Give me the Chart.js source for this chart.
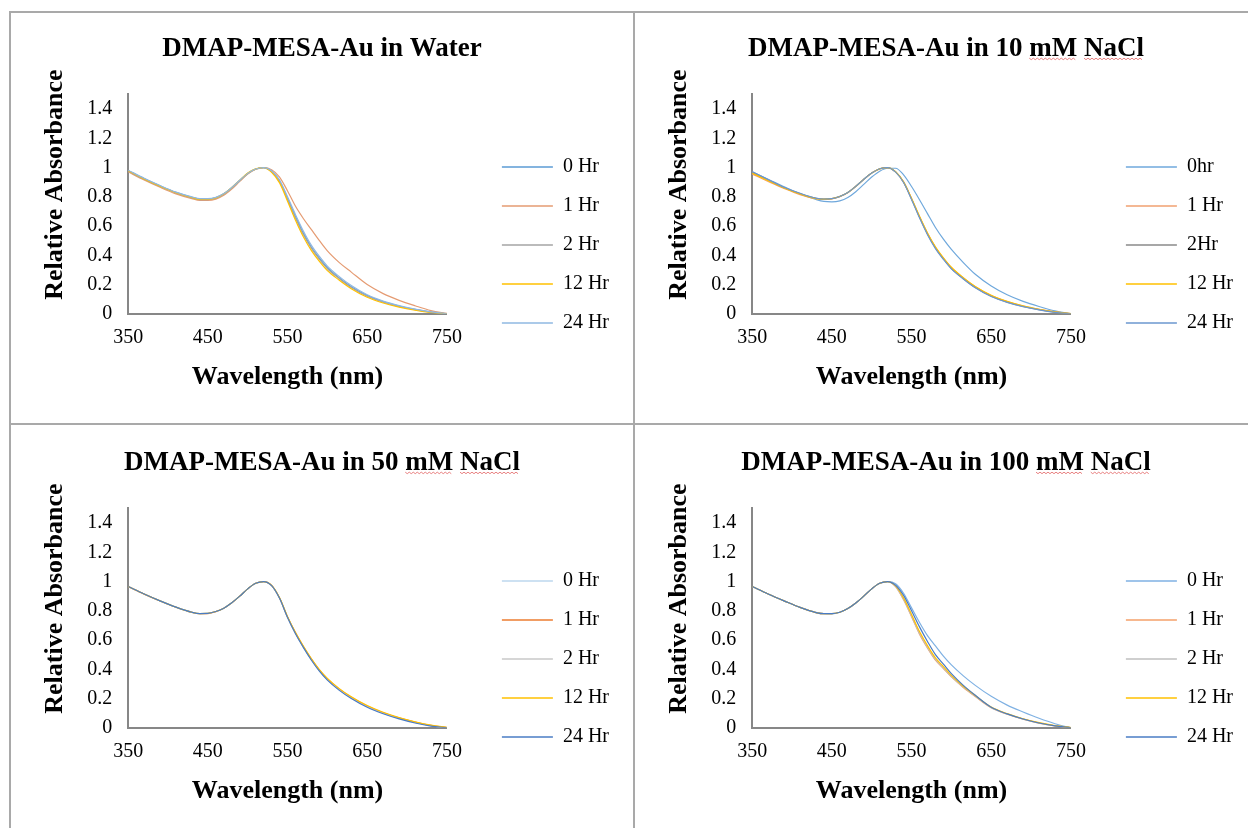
<!DOCTYPE html>
<html lang="en">
<head>
    <meta charset="UTF-8">
    <title>DMAP-MESA-Au stability in NaCl</title>
    <script src="https://cdn.jsdelivr.net/npm/chart.js"></script>
    <style>
        body { margin: 0; background: #fff; width: 1248px; height: 828px; overflow: hidden; position: relative; }
        .rule { position: absolute; background: #a9a9a9; }
        .panel { position: absolute; width: 622px; height: 410px; }
    </style>
</head>
<body>
    <!-- table lines around the four charts -->
    <div class="rule" style="left:9px;top:11px;width:1239px;height:2px"></div>
    <div class="rule" style="left:9px;top:423px;width:1239px;height:2px"></div>
    <div class="rule" style="left:9px;top:11px;width:2px;height:817px"></div>
    <div class="rule" style="left:633px;top:11px;width:2px;height:817px"></div>

    <div class="panel" style="left:11px;top:13px"><canvas id="chartWater" width="622" height="410"></canvas></div>
    <div class="panel" style="left:635px;top:13px"><canvas id="chart10" width="622" height="410"></canvas></div>
    <div class="panel" style="left:11px;top:427px"><canvas id="chart50" width="622" height="410"></canvas></div>
    <div class="panel" style="left:635px;top:427px"><canvas id="chart100" width="622" height="410"></canvas></div>

    <script>
        // wavelength grid (nm)
        const wavelengths = [350, 370, 390, 410, 430, 440, 450, 460, 470, 480, 490, 500, 510, 520, 530,
                             540, 550, 560, 570, 580, 590, 600, 615, 630, 650, 670, 690, 710, 730, 750];

        const labelsStd = ['0 Hr', '1 Hr', '2 Hr', '12 Hr', '24 Hr'];
        const labels10 = ['0hr', '1 Hr', '2Hr', '12 Hr', '24 Hr'];

        // Water
        const water0 = [0.98, 0.925, 0.875, 0.83, 0.797, 0.785, 0.785, 0.794, 0.82, 0.862, 0.912, 0.96, 0.99, 1.0, 0.975,
                        0.91, 0.79, 0.665, 0.55, 0.455, 0.38, 0.315, 0.245, 0.185, 0.125, 0.083, 0.053, 0.03, 0.012, 0.0];
        const water1 = [0.97, 0.915, 0.865, 0.82, 0.787, 0.775, 0.775, 0.784, 0.81, 0.853, 0.905, 0.955, 0.988, 1.0, 0.985,
                        0.935, 0.84, 0.735, 0.65, 0.575, 0.5, 0.43, 0.35, 0.285, 0.2, 0.138, 0.092, 0.055, 0.022, 0.003];
        const water2 = [0.975, 0.92, 0.87, 0.826, 0.793, 0.781, 0.781, 0.79, 0.817, 0.86, 0.91, 0.958, 0.989, 1.0, 0.972,
                        0.905, 0.782, 0.655, 0.54, 0.447, 0.372, 0.308, 0.24, 0.18, 0.12, 0.08, 0.05, 0.028, 0.011, 0.0];
        const water12 = [0.978, 0.922, 0.872, 0.828, 0.795, 0.783, 0.783, 0.793, 0.82, 0.863, 0.914, 0.962, 0.991, 1.0, 0.968,
                         0.895, 0.77, 0.64, 0.525, 0.432, 0.358, 0.295, 0.23, 0.172, 0.113, 0.074, 0.046, 0.025, 0.009, 0.0];
        const water24 = [0.982, 0.927, 0.877, 0.832, 0.799, 0.787, 0.787, 0.796, 0.822, 0.864, 0.913, 0.96, 0.99, 1.0, 0.978,
                         0.915, 0.8, 0.678, 0.565, 0.468, 0.392, 0.326, 0.254, 0.193, 0.13, 0.087, 0.056, 0.032, 0.013, 0.0];

        // 10 mM NaCl
        const nacl10_0 = [0.97, 0.92, 0.868, 0.82, 0.782, 0.768, 0.765, 0.772, 0.795, 0.835, 0.885, 0.935, 0.975, 0.995, 0.995,
                          0.95, 0.87, 0.78, 0.685, 0.59, 0.51, 0.44, 0.35, 0.27, 0.19, 0.13, 0.085, 0.05, 0.02, 0.0];
        const nacl10_1 = [0.955, 0.905, 0.857, 0.815, 0.787, 0.782, 0.786, 0.801, 0.828, 0.87, 0.918, 0.962, 0.991, 1.0, 0.97,
                          0.9, 0.787, 0.663, 0.55, 0.455, 0.38, 0.315, 0.245, 0.185, 0.125, 0.084, 0.053, 0.03, 0.013, 0.002];
        const nacl10_2 = [0.968, 0.915, 0.862, 0.822, 0.79, 0.785, 0.788, 0.803, 0.83, 0.872, 0.92, 0.963, 0.992, 1.0, 0.97,
                          0.9, 0.785, 0.66, 0.545, 0.45, 0.375, 0.31, 0.24, 0.18, 0.12, 0.08, 0.05, 0.028, 0.011, 0.0];
        const nacl10_12 = [0.962, 0.91, 0.86, 0.819, 0.788, 0.784, 0.787, 0.802, 0.829, 0.871, 0.919, 0.962, 0.991, 1.0, 0.971,
                           0.902, 0.79, 0.667, 0.553, 0.458, 0.383, 0.318, 0.247, 0.187, 0.127, 0.085, 0.054, 0.031, 0.013, 0.002];
        const nacl10_24 = [0.972, 0.918, 0.865, 0.824, 0.791, 0.785, 0.787, 0.802, 0.829, 0.871, 0.919, 0.962, 0.992, 1.0, 0.969,
                           0.898, 0.782, 0.656, 0.541, 0.446, 0.372, 0.307, 0.238, 0.178, 0.118, 0.078, 0.049, 0.027, 0.01, 0.0];

        // 50 mM NaCl
        const nacl50_0 = [0.966, 0.915, 0.868, 0.825, 0.79, 0.781, 0.782, 0.795, 0.818, 0.855, 0.9, 0.95, 0.988, 1.0, 0.972,
                          0.885, 0.755, 0.645, 0.55, 0.465, 0.39, 0.33, 0.26, 0.205, 0.145, 0.1, 0.065, 0.036, 0.014, 0.0];
        const nacl50_1 = [0.965, 0.914, 0.867, 0.824, 0.789, 0.78, 0.781, 0.794, 0.817, 0.854, 0.9, 0.95, 0.988, 1.0, 0.974,
                          0.888, 0.758, 0.649, 0.554, 0.469, 0.394, 0.334, 0.264, 0.209, 0.149, 0.103, 0.068, 0.039, 0.016, 0.002];
        const nacl50_2 = [0.966, 0.915, 0.868, 0.825, 0.79, 0.781, 0.782, 0.795, 0.818, 0.855, 0.9, 0.95, 0.988, 1.0, 0.972,
                          0.886, 0.756, 0.646, 0.551, 0.466, 0.391, 0.331, 0.261, 0.206, 0.146, 0.101, 0.066, 0.037, 0.015, 0.001];
        const nacl50_12 = [0.966, 0.915, 0.868, 0.825, 0.79, 0.781, 0.782, 0.795, 0.818, 0.855, 0.9, 0.95, 0.988, 1.0, 0.974,
                           0.889, 0.76, 0.651, 0.557, 0.472, 0.398, 0.338, 0.268, 0.212, 0.152, 0.106, 0.07, 0.041, 0.018, 0.003];
        const nacl50_24 = [0.966, 0.915, 0.868, 0.825, 0.79, 0.781, 0.782, 0.795, 0.818, 0.855, 0.9, 0.95, 0.988, 1.0, 0.972,
                           0.885, 0.754, 0.643, 0.548, 0.462, 0.387, 0.326, 0.256, 0.2, 0.14, 0.096, 0.061, 0.033, 0.012, 0.0];

        // 100 mM NaCl
        const nacl100_0 = [0.966, 0.915, 0.868, 0.824, 0.789, 0.78, 0.778, 0.79, 0.815, 0.853, 0.9, 0.95, 0.988, 1.0, 0.985,
                           0.92, 0.82, 0.72, 0.63, 0.56, 0.49, 0.43, 0.355, 0.29, 0.215, 0.155, 0.108, 0.065, 0.028, 0.0];
        const nacl100_1 = [0.966, 0.915, 0.868, 0.823, 0.788, 0.78, 0.78, 0.79, 0.815, 0.853, 0.9, 0.95, 0.988, 1.0, 0.965,
                           0.875, 0.76, 0.64, 0.545, 0.462, 0.405, 0.348, 0.276, 0.214, 0.137, 0.093, 0.059, 0.032, 0.013, 0.002];
        const nacl100_2 = [0.966, 0.915, 0.868, 0.823, 0.788, 0.78, 0.78, 0.79, 0.815, 0.853, 0.9, 0.95, 0.988, 1.0, 0.966,
                           0.878, 0.764, 0.645, 0.55, 0.467, 0.408, 0.35, 0.278, 0.216, 0.138, 0.094, 0.059, 0.032, 0.013, 0.001];
        const nacl100_12 = [0.966, 0.915, 0.868, 0.823, 0.788, 0.78, 0.78, 0.79, 0.815, 0.853, 0.9, 0.95, 0.988, 1.0, 0.97,
                            0.888, 0.775, 0.658, 0.562, 0.478, 0.418, 0.358, 0.284, 0.221, 0.142, 0.097, 0.062, 0.035, 0.015, 0.002];
        const nacl100_24 = [0.966, 0.915, 0.868, 0.823, 0.788, 0.78, 0.78, 0.79, 0.815, 0.853, 0.9, 0.95, 0.988, 1.0, 0.975,
                            0.905, 0.8, 0.69, 0.59, 0.5, 0.435, 0.37, 0.29, 0.222, 0.14, 0.095, 0.06, 0.033, 0.013, 0.0];

        const colorsWater = ['#5B9BD5', '#E59B72', '#A5A5A5', '#FFC000', '#8FB8E2'];
        const colors10 = ['#6FA8DC', '#F0A070', '#8A8A8A', '#FFC000', '#6B97CF'];
        const colors50 = ['#BDD7EE', '#ED7D31', '#C9C9C9', '#FFC000', '#4A7CC4'];
        const colors100 = ['#7FB1E3', '#F4A06A', '#BFBFBF', '#FFC000', '#4A7CC4'];

        const serif = '"Liberation Serif", "Times New Roman", serif';
        Chart.defaults.font.family = serif;
        Chart.defaults.color = '#000';

        // Excel layout: legend sits further right and lower, title centred on the whole cell
        const layoutNudge = {
            id: 'layoutNudge',
            afterLayout(chart) {
                const lg = chart.legend;
                lg.left += 36; lg.right += 36;
                lg.top += 27; lg.bottom += 27;
                chart.titleBlock.right = chart.width;
            }
        };

        // red spell-check squiggle under some title words (as in the Word document)
        const spellMarks = {
            id: 'spellMarks',
            afterDraw(chart, args, opts) {
                if (!opts.words || !opts.words.length) return;
                const t = chart.titleBlock;
                const text = t.options.text;
                const ctx = chart.ctx;
                ctx.save();
                ctx.font = 'bold 27px ' + serif;
                ctx.textBaseline = 'middle';
                const full = ctx.measureText(text).width;
                const x0 = (t.left + t.right) / 2 - full / 2;
                const midY = t.top + 20 + 27 * 1.2 / 2;
                const y = midY + ctx.measureText('M').actualBoundingBoxDescent + 2;
                ctx.strokeStyle = '#E88080';
                ctx.lineWidth = 1;
                opts.words.forEach(word => {
                    const idx = text.indexOf(word);
                    const wx = x0 + ctx.measureText(text.slice(0, idx)).width;
                    const ww = ctx.measureText(word).width;
                    ctx.beginPath();
                    for (let x = 0; x <= ww; x += 2) {
                        const yy = y + ((x / 2) % 2 === 0 ? 0 : 1.5);
                        if (x === 0) ctx.moveTo(wx + x, yy); else ctx.lineTo(wx + x, yy);
                    }
                    ctx.stroke();
                });
                ctx.restore();
            }
        };

        function makeChart(id, title, names, series, colors, marked) {
            const datasets = series.map((vals, i) => ({
                label: names[i],
                data: wavelengths.map((w, j) => ({ x: w, y: vals[j] })),
                borderColor: colors[i],
                backgroundColor: colors[i],
                borderWidth: 1.2,
                pointRadius: 0,
                pointBorderWidth: 1.5,
                cubicInterpolationMode: 'monotone',
                order: series.length - 1 - i,
                yAxisID: 'y'
            }));

            new Chart(document.getElementById(id), {
                type: 'line',
                data: { datasets },
                plugins: [layoutNudge, spellMarks],
                options: {
                    responsive: false,
                    animation: false,
                    layout: { padding: { right: 50 } },
                    plugins: {
                        title: {
                            display: true,
                            text: title,
                            font: { size: 27, weight: 'bold' },
                            padding: { top: 20, bottom: 29 }
                        },
                        legend: {
                            position: 'right',
                            labels: {
                                usePointStyle: true,
                                pointStyle: 'line',
                                pointStyleWidth: 51,
                                font: { size: 20 },
                                padding: 19,
                                sort: (a, b) => a.datasetIndex - b.datasetIndex
                            }
                        },
                        tooltip: { enabled: false },
                        spellMarks: { words: marked }
                    },
                    scales: {
                        x: {
                            type: 'linear',
                            min: 350,
                            max: 750,
                            grid: { display: false, drawTicks: false },
                            border: { display: true, color: '#878787', width: 2 },
                            ticks: { stepSize: 100, padding: 12, font: { size: 20 } },
                            title: {
                                display: true,
                                text: 'Wavelength (nm)',
                                font: { size: 26, weight: 'bold' },
                                padding: { top: 0, bottom: 30 }
                            }
                        },
                        y: {
                            min: 0,
                            max: 1.5,
                            grid: { display: false, drawTicks: false },
                            border: { display: true, color: '#878787', width: 2 },
                            ticks: {
                                stepSize: 0.2,
                                includeBounds: false,
                                padding: 16,
                                font: { size: 20 },
                                callback: v => String(Math.round(v * 10) / 10)
                            },
                            title: {
                                display: true,
                                // leading spaces lift the centred title, as Excel placed it
                                text: '\u00A0\u00A0\u00A0\u00A0\u00A0\u00A0Relative Absorbance',
                                font: { size: 26, weight: 'bold' },
                                padding: { top: 29, bottom: 0 }
                            }
                        }
                    }
                }
            });
        }

        makeChart('chartWater', 'DMAP-MESA-Au in Water', labelsStd,
            [water0, water1, water2, water12, water24], colorsWater, []);
        makeChart('chart10', 'DMAP-MESA-Au in 10 mM NaCl', labels10,
            [nacl10_0, nacl10_1, nacl10_2, nacl10_12, nacl10_24], colors10, ['mM', 'NaCl']);
        makeChart('chart50', 'DMAP-MESA-Au in 50 mM NaCl', labelsStd,
            [nacl50_0, nacl50_1, nacl50_2, nacl50_12, nacl50_24], colors50, ['mM', 'NaCl']);
        makeChart('chart100', 'DMAP-MESA-Au in 100 mM NaCl', labelsStd,
            [nacl100_0, nacl100_1, nacl100_2, nacl100_12, nacl100_24], colors100, ['mM', 'NaCl']);
    </script>
</body>
</html>
